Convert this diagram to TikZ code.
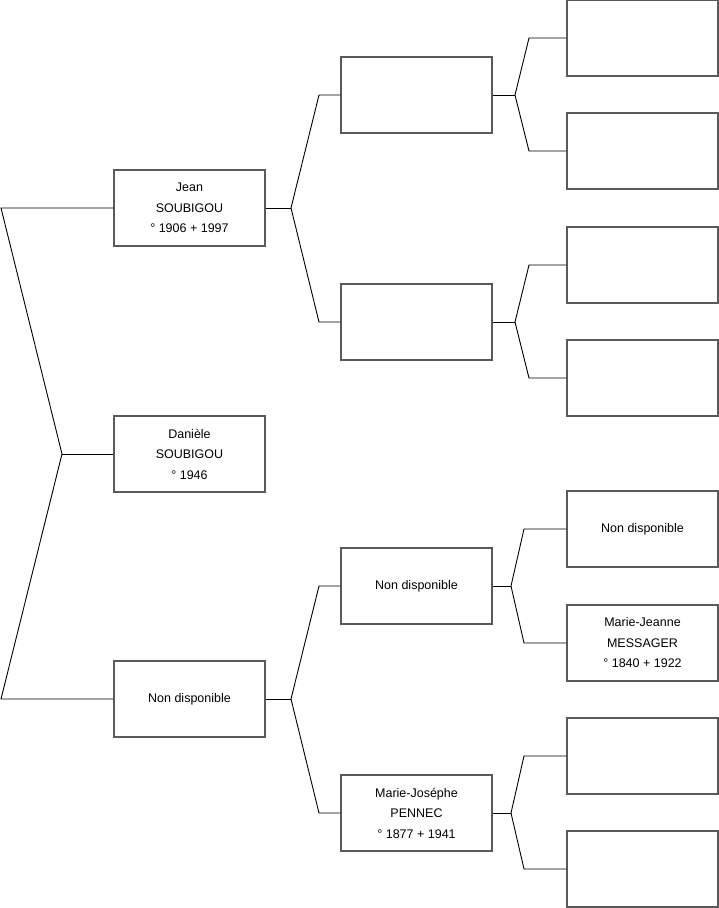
\documentclass[tikz,border=0pt]{standalone}
\usepackage{fontspec}
\setmainfont{Liberation Sans}
\definecolor{boxline}{RGB}{90,90,90}
\begin{document}
\begin{tikzpicture}[x=1pt,y=-1pt,
  person/.style={draw=boxline,line width=1.2pt,fill=white,minimum width=151pt,minimum height=76pt,inner sep=0pt,align=center,font=\fontsize{12.5}{20.5}\selectfont},
  link/.style={draw=black,line width=0.9pt}]
\useasboundingbox (0,0) rectangle (719,908);
% level 1
\node[person] (jean) at (189.5,208) {Jean\\SOUBIGOU\\° 1906 + 1997};
\node[person] (dan) at (189.5,454) {Danièle\\SOUBIGOU\\° 1946};
\node[person] (nd) at (189.5,699) {Non disponible};
% level 2
\node[person] (b1) at (416.5,95) {};
\node[person] (b2) at (416.5,322) {};
\node[person] (b3) at (416.5,586) {Non disponible};
\node[person] (b4) at (416.5,813) {Marie-Joséphe\\PENNEC\\° 1877 + 1941};
% level 3
\node[person] (c1) at (642.5,38) {};
\node[person] (c2) at (642.5,151) {};
\node[person] (c3) at (642.5,265) {};
\node[person] (c4) at (642.5,378) {};
\node[person] (c5) at (642.5,529) {Non disponible};
\node[person] (c6) at (642.5,643) {Marie-Jeanne\\MESSAGER\\° 1840 + 1922};
\node[person] (c7) at (642.5,756) {};
\node[person] (c8) at (642.5,869) {};
% junction coordinates
\coordinate (j0) at (62,454);
\coordinate (j0a) at (1,208);
\coordinate (j0b) at (1,699);
\coordinate (j1) at (291,208);
\coordinate (j1a) at (319,95);
\coordinate (j1b) at (319,322);
\coordinate (j2) at (291,699);
\coordinate (j2a) at (319,586);
\coordinate (j2b) at (319,813);
\coordinate (k1) at (515,95);
\coordinate (k1a) at (529,38);
\coordinate (k1b) at (529,151);
\coordinate (k2) at (515,322);
\coordinate (k2a) at (529,265);
\coordinate (k2b) at (529,378);
\coordinate (k3) at (511,586);
\coordinate (k3a) at (524,529);
\coordinate (k3b) at (524,643);
\coordinate (k4) at (511,813);
\coordinate (k4a) at (524,756);
\coordinate (k4b) at (524,869);
% connectors
\draw[link] (dan.west) -- (j0);
\draw[link] (jean.west) -- (j0a) -- (j0) -- (j0b) -- (nd.west);
\draw[link] (jean.east) -- (j1);
\draw[link] (b1.west) -- (j1a) -- (j1) -- (j1b) -- (b2.west);
\draw[link] (nd.east) -- (j2);
\draw[link] (b3.west) -- (j2a) -- (j2) -- (j2b) -- (b4.west);
\draw[link] (b1.east) -- (k1);
\draw[link] (c1.west) -- (k1a) -- (k1) -- (k1b) -- (c2.west);
\draw[link] (b2.east) -- (k2);
\draw[link] (c3.west) -- (k2a) -- (k2) -- (k2b) -- (c4.west);
\draw[link] (b3.east) -- (k3);
\draw[link] (c5.west) -- (k3a) -- (k3) -- (k3b) -- (c6.west);
\draw[link] (b4.east) -- (k4);
\draw[link] (c7.west) -- (k4a) -- (k4) -- (k4b) -- (c8.west);
\end{tikzpicture}
\end{document}
